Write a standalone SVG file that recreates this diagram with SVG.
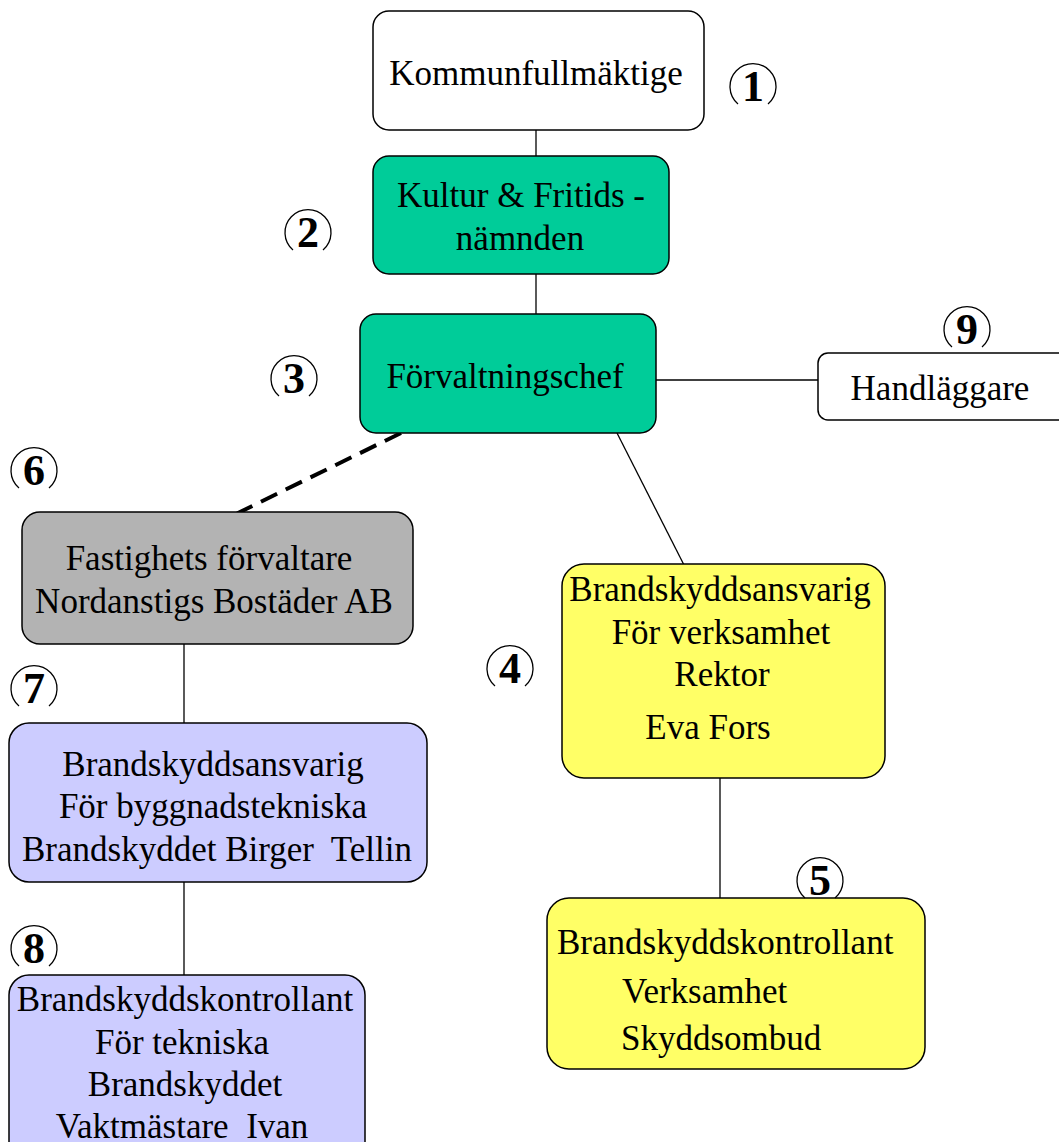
<svg xmlns="http://www.w3.org/2000/svg" width="1059" height="1142" viewBox="0 0 1059 1142">
<style>
.box{stroke:#000;stroke-width:1.5}
.t{font-family:"Liberation Serif","Times New Roman",serif;font-size:35px;fill:#000}
.c{text-anchor:middle}
.num{font-family:"Liberation Serif","Times New Roman",serif;font-size:44px;font-weight:bold;text-anchor:middle;fill:#000}
.ring{fill:none;stroke:#000;stroke-width:1.3}
.ln{stroke:#000;stroke-width:1.3;fill:none}
</style>
<defs>
<path id="ring" d="M-15,18 A23,23 0 1 1 15,18"/>
</defs>
<rect width="1059" height="1142" fill="#fff"/>
<g id="connectors">
<line class="ln" x1="536" y1="130" x2="536" y2="156"/>
<line class="ln" x1="536" y1="274" x2="536" y2="314"/>
<line class="ln" x1="656" y1="380" x2="818" y2="380"/>
<line class="ln" x1="617" y1="433" x2="684" y2="565"/>
<line x1="401" y1="433" x2="238" y2="513" stroke="#000" stroke-width="4" stroke-dasharray="18,9.6"/>
<circle cx="238" cy="513" r="2"/>
<line class="ln" x1="184" y1="644" x2="184" y2="723"/>
<line class="ln" x1="184" y1="882" x2="184" y2="975"/>
<line class="ln" x1="720" y1="778" x2="720" y2="910"/>
</g>
<g id="n1">
<rect class="box" x="373" y="11" width="331" height="119" rx="16" fill="#fff"/>
<text class="t c" x="536" y="85">Kommunfullmäktige</text>
</g>
<g id="n2">
<rect class="box" x="373" y="156" width="296" height="118" rx="16" fill="#00CC99"/>
<text class="t c" x="521" y="207">Kultur &amp; Fritids -</text>
<text class="t c" x="520" y="250">nämnden</text>
</g>
<g id="n3">
<rect class="box" x="360" y="314" width="296" height="119" rx="16" fill="#00CC99"/>
<text class="t c" x="505" y="388">Förvaltningschef</text>
</g>
<g id="n9">
<rect class="box" x="818" y="353" width="260" height="67" rx="10" fill="#fff"/>
<text class="t c" x="940" y="400">Handläggare</text>
</g>
<g id="n6">
<rect class="box" x="22" y="512" width="391" height="132" rx="18" fill="#B3B3B3"/>
<text class="t c" x="209" y="570">Fastighets förvaltare</text>
<text class="t c" x="214" y="613">Nordanstigs Bostäder AB</text>
</g>
<g id="n4">
<rect class="box" x="562" y="564" width="323" height="214" rx="22" fill="#FFFF66"/>
<text class="t c" x="720" y="601">Brandskyddsansvarig</text>
<text class="t c" x="721" y="644">För verksamhet</text>
<text class="t c" x="722" y="686">Rektor</text>
<text class="t c" x="708" y="739">Eva Fors</text>
</g>
<g id="n5">
<rect class="box" x="547" y="898" width="378" height="171" rx="22" fill="#FFFF66"/>
<text class="t" x="557" y="954">Brandskyddskontrollant</text>
<text class="t" x="622" y="1003">Verksamhet</text>
<text class="t" x="621" y="1050">Skyddsombud</text>
</g>
<g id="n7">
<rect class="box" x="9" y="723" width="418" height="159" rx="20" fill="#CCCCFF"/>
<text class="t c" x="213" y="776">Brandskyddsansvarig</text>
<text class="t c" x="213" y="818">För byggnadstekniska</text>
<text class="t c" x="217" y="861" xml:space="preserve">Brandskyddet Birger  Tellin</text>
</g>
<g id="n8">
<rect class="box" x="9" y="975" width="356" height="190" rx="20" fill="#CCCCFF"/>
<text class="t c" x="185" y="1011">Brandskyddskontrollant</text>
<text class="t c" x="182" y="1054">För tekniska</text>
<text class="t c" x="185" y="1096">Brandskyddet</text>
<text class="t c" x="182" y="1138" xml:space="preserve">Vaktmästare  Ivan</text>
</g>
<g id="numbers">
<g transform="translate(753,86)"><use href="#ring" class="ring"/><text class="num" y="15">1</text></g>
<g transform="translate(308,232)"><use href="#ring" class="ring"/><text class="num" y="15">2</text></g>
<g transform="translate(294,378)"><use href="#ring" class="ring"/><text class="num" y="15">3</text></g>
<g transform="translate(510,668)"><use href="#ring" class="ring"/><text class="num" y="15">4</text></g>
<g transform="translate(820,880)"><use href="#ring" class="ring"/><text class="num" y="15">5</text></g>
<g transform="translate(34,470)"><use href="#ring" class="ring"/><text class="num" y="15">6</text></g>
<g transform="translate(34,688)"><use href="#ring" class="ring"/><text class="num" y="15">7</text></g>
<g transform="translate(34,948)"><use href="#ring" class="ring"/><text class="num" y="15">8</text></g>
<g transform="translate(967,329)"><use href="#ring" class="ring"/><text class="num" y="15">9</text></g>
</g>
</svg>
